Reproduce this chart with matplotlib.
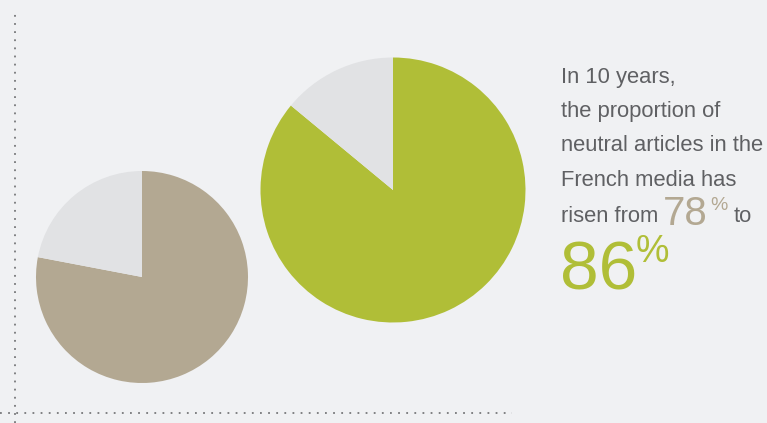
import matplotlib.pyplot as plt
from matplotlib.lines import Line2D

# pie data (share of neutral articles vs rest)
before_vals = [78, 22]
after_vals = [86, 14]
before_colors = ['#b3a892', '#e1e2e4']
after_colors = ['#b0be37', '#e1e2e4']

W, H = 767, 423
bg = '#f0f1f3'
txt = '#5f6063'

fig = plt.figure(figsize=(W / 100, H / 100), dpi=100, facecolor=bg)
ax = fig.add_axes([0, 0, 1, 1])
ax.set_facecolor(bg)

# small pie (before), big pie (after); y measured from bottom
ax.pie(before_vals, colors=before_colors, startangle=90, counterclock=False,
       center=(142, H - 277), radius=106, frame=True)
ax.pie(after_vals, colors=after_colors, startangle=90, counterclock=False,
       center=(393, H - 190), radius=132.5, frame=True)

ax.set_xlim(0, W)
ax.set_ylim(0, H)
ax.set_aspect('equal')
ax.axis('off')

# dotted guide lines
dots = (0, (1, 3.5))
ax.add_line(Line2D([14.5, 14.5], [0, H - 11], color='#77787a', lw=1.3,
                   linestyle=dots))
ax.add_line(Line2D([0, 512], [H - 413, H - 413], color='#77787a', lw=1.3,
                   linestyle=dots))

font = 'Liberation Sans'
fs = 15.8
lines = ['In 10 years,', 'the proportion of', 'neutral articles in the',
         'French media has']
baselines = [83, 117, 151, 186]
for s, b in zip(lines, baselines):
    ax.text(561, H - b, s, color=txt, fontsize=fs, family=font, va='baseline')

ax.text(561, H - 222, 'risen from', color=txt, fontsize=fs, family=font, va='baseline')
ax.text(663, H - 225, '78', color='#b3a892', fontsize=29, family=font, va='baseline')
ax.text(710, H - 210, '%', color='#b3a892', fontsize=14, family=font, va='baseline')
ax.text(734, H - 222, 'to', color=txt, fontsize=fs, family=font, va='baseline')

ax.text(560, H - 290, '86', color='#b0be37', fontsize=50, family=font, va='baseline')
ax.text(636, H - 262, '%', color='#b0be37', fontsize=27, family=font, va='baseline')

fig.savefig('out.png', dpi=100, facecolor=bg)
